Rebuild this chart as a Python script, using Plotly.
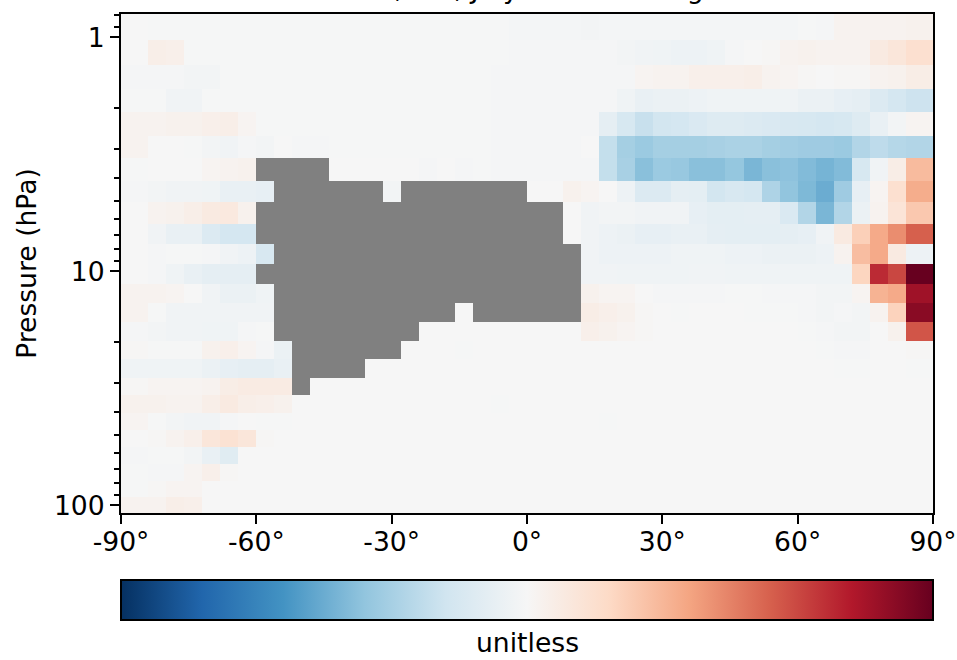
import plotly.graph_objects as go

lat_edges = [-90] + list(range(-84, 85, 4)) + [90]
pressure_edges = [0.795, 1.027, 1.313, 1.663, 2.085, 2.641, 3.280, 4.113, 5.056, 6.280, 7.643,
                  9.307, 11.33, 13.66, 16.47, 19.85, 23.70, 28.58, 33.78, 40.32, 47.67, 56.35,
                  66.60, 78.74, 92.15, 107.9]
N = None
row_00 = [0,-.5,-.5,-.5,-.5,-.5,-.5,-.5,-.5,-.5,-.5,-.5,-.5,-.5,-.5,-.5,-.5,-.5,-.5,-.5,-.5,-1.5,-1.5,-1.5,-1.5,-2,-1.5,-1.5,-1.5,-1.5,-1.5,-1.5,-1.5,-1.5,-1.5,-1.5,-1.5,-.5,-1,3,3,3,3,4]
row_01 = [0,6,5,-.5,-.5,-.5,-.5,-.5,-.5,-.5,-.5,-.5,-.5,-.5,-.5,-.5,-.5,-.5,-.5,-.5,-.5,-1,-1,-1,-1,-1,-1,-2,-3,-4,-5,-5,-4,-1,0,1,3,4,3,3,3,9,12,16]
row_02 = [-1,-1,-1,-2,-2,-.5,-.5,-.5,-.5,-.5,-.5,-.5,-.5,-.5,-.5,-.5,-.5,-.5,-.5,-.5,-1,-1,-1,-1,-1,-1,-1,-1,2,3,3,5,5,5,6,3,2,1,0,1,1,3,4,7]
row_03 = [-.5,-.5,-3,-3,-.5,-.5,-.5,-.5,-.5,-.5,-.5,-.5,-.5,-.5,-.5,-.5,-.5,-.5,-.5,-.5,-1,-1,-1,-1,-1,-1,-1,-4,-7,-6,-6,-5,-4,-4,-4,-4,-4,-6,-6,-8,-9,-14,-18,-21]
row_04 = [3,3,4,4,5,6,2,-.5,-.5,-.5,-.5,-.5,-.5,-.5,-.5,-.5,-.5,-.5,-.5,-.5,-1,-1,-1,-1,-1,-1,-9,-17,-23,-19,-18,-15,-13,-13,-14,-15,-16,-17,-18,-17,-13,-7,-2,2]
row_05 = [3,0,0,-.5,-2,-3,-1,-2,0,-1,-1,-.5,-.5,-.5,-.5,-.5,-.5,-.5,-.5,-.5,-1,-1,-1,-1,-1,0,-24,-34,-37,-34,-34,-34,-33,-32,-32,-34,-35,-36,-36,-37,-30,-26,-29,-30]
row_06 = [-.5,0,0,0,2,3,4,N,N,N,N,0,0,0,0,0,-1,0,-1,-.5,-1,-1,-1,-1,-1,-1,-24,-33,-42,-37,-38,-42,-42,-39,-46,-42,-41,-44,-47,-44,-17,-3,7,32]
row_07 = [-1,-2,-3,-3,-4,-7,-7,-8,N,N,N,N,N,N,-2,N,N,N,N,N,N,N,0,0,4,2,0,-5,-14,-14,-9,-10,-19,-16,-18,-31,-40,-45,-50,-36,-8,2,16,37]
row_08 = [0,3,4,6,9,10,4,N,N,N,N,N,N,N,N,N,N,N,N,N,N,N,N,N,0,-3,-2,-2,-3,-3,-3,-8,-10,-10,-9,-9,-15,-30,-46,-30,-6,3,13,27]
row_09 = [0,-3,-7,-7,-14,-18,-18,N,N,N,N,N,N,N,N,N,N,N,N,N,N,N,N,N,0,-3,-5,-6,-8,-8,-7,-7,-9,-10,-10,-10,-9,-8,-3,9,24,38,47,60]
row_10 = [0,-1,-.5,-.5,-1,-3,-5,-16,N,N,N,N,N,N,N,N,N,N,N,N,N,N,N,N,N,-3,-5,-5,-5,-5,-4,-4,-4,-5,-5,-6,-6,-6,-5,3,31,38,9,-5]
row_11 = [0,-1,-4,-7,-9,-9,-9,N,N,N,N,N,N,N,N,N,N,N,N,N,N,N,N,N,N,-3,-3,-4,-4,-4,-4,-3,-3,-4,-4,-4,-4,-4,-4,-4,22,75,67,100]
row_12 = [3,3,2,0,-3,-6,-6,-4,N,N,N,N,N,N,N,N,N,N,N,N,N,N,N,N,N,4,2,2,0,-1,-1,-1,-1,-.5,-.5,-1,-1,-1,-2,-2,2,35,38,85]
row_13 = [3,-.5,-3,-3,-3,-3,-3,-3,N,N,N,N,N,N,N,N,N,N,0,N,N,N,N,N,N,7,5,4,1,0,-.5,0,0,0,-.5,-.5,-.5,-1,-2,-1,-2,3,23,91]
row_14 = [-1,-2,-3,-3,-4,-4,-1,-.5,N,N,N,N,N,N,N,N,0,0,0,0,0,0,0,0,0,5,4,2,1,0,0,0,0,0,0,0,0,-.5,-1,-2,-2,0,4,63]
row_15 = [1,-.5,-.5,-.5,4,5,2,-1,-6,N,N,N,N,N,N,0,0,0,-.3,0,0,0,0,0,0,0,0,0,0,0,0,0,0,0,0,0,0,0,-.5,-1,-1,0,0,1]
row_16 = [-4,-4,-4,-4,-6,-8,-9,-9,-7,N,N,N,N,0,0,0,0,0,0,0,0,0,0,0,0,0,0,0,0,0,0,0,0,0,0,0,0,0,0,-.5,-.5,0,0,-.5]
row_17 = [1,2,2,2,3,7,8,8,8,N,0,0,0,0,0,0,0,0,0,0,0,0,0,0,0,0,0,0,0,0,0,0,0,0,0,0,0,0,0,0,0,0,0,0]
row_18 = [4,4,3,3,6,9,6,5,4,0,0,0,0,0,0,0,0,0,0,0,-.3,0,0,0,0,0,0,0,0,0,0,0,0,0,0,0,0,0,0,0,0,0,0,0]
row_19 = [2,-.5,-2,-3,-3,-1,0,-.3,-.3,0,0,0,0,0,0,0,0,0,0,0,0,0,0,0,0,0,-.5,0,0,0,0,0,0,0,0,0,0,0,0,0,0,0,0,0]
row_20 = [0,1,3,5,12,15,12,1,0,0,0,0,0,0,0,0,0,0,0,0,0,0,0,0,0,0,0,0,0,0,0,0,0,0,0,0,0,0,0,0,0,0,0,0]
row_21 = [-1,-.5,-.5,-2,-7,-12,0,0,0,0,0,0,0,0,0,0,0,0,0,0,0,0,0,0,0,0,0,0,0,0,0,0,0,0,0,0,0,0,0,0,0,0,0,0]
row_22 = [-.5,-1,-1,2,5,1,0,0,0,0,0,0,0,0,0,0,0,0,0,0,0,0,0,0,0,0,0,0,0,0,0,0,0,0,0,0,0,0,0,0,0,0,0,0]
row_23 = [-.5,1,2,2,0,0,0,0,0,0,0,0,0,0,0,0,0,0,0,0,0,0,0,0,0,0,0,0,0,0,0,0,0,0,0,0,0,0,0,0,0,0,0,0]
row_24 = [3,3,6,5,0,0,0,0,0,0,0,0,0,0,0,0,0,0,0,0,0,0,0,0,0,0,0,0,0,0,0,0,0,0,0,0,0,0,0,0,0,0,0,0]

z_values = [row_00,row_01,row_02,row_03,row_04,row_05,row_06,row_07,row_08,row_09,row_10,row_11,row_12,
            row_13,row_14,row_15,row_16,row_17,row_18,row_19,row_20,row_21,row_22,row_23,row_24]
for r in z_values:
    assert len(r) == 44, len(r)

x_ticks = [-90, -60, -30, 0, 30, 60, 90]
x_labels = ["-90°", "-60°", "-30°", "0°", "30°", "60°", "90°"]
y_ticks = [1, 10, 100]
y_labels = ["1", "10", "100"]
y_minor = [0.8, 0.9, 2, 3, 4, 5, 6, 7, 8, 9, 20, 30, 40, 50, 60, 70, 80, 90]

rdbu_r = ["#053061", "#2166ac", "#4393c3", "#92c5de", "#d1e5f0", "#f6f6f6",
          "#fddbc7", "#f4a582", "#d6604d", "#b2182b", "#67001f"]
scale = [[i / 10, c] for i, c in enumerate(rdbu_r)]
FONT = "DejaVu Sans"
FS = 26.6
W, H = 957, 660
L, R, T, B = 121, 933, 14, 513

fig = go.Figure(go.Heatmap(
    x=lat_edges, y=pressure_edges, z=z_values, zmin=-100, zmax=100, colorscale=scale,
    hoverongaps=False,
    colorbar=dict(orientation="h", x=0.5, xanchor="center", y=(B - 622) / (B - T), yanchor="bottom",
                  len=1, lenmode="fraction", thickness=40, thicknessmode="pixels",
                  xpad=0, ypad=0, outlinecolor="black", outlinewidth=2,
                  ticks="", tickmode="array", tickvals=[], ticktext=[],
                  tickfont=dict(family=FONT, size=2, color="white")),
))
axis_style = dict(showgrid=False, zeroline=False, showline=True, linecolor="black", linewidth=2,
                  mirror=True, ticks="outside", ticklen=9, tickwidth=2, tickcolor="black",
                  tickfont=dict(family=FONT, size=FS, color="black"))
fig.update_xaxes(range=[-90, 90], tickmode="array", tickvals=x_ticks, ticktext=x_labels,
                 ticklabelstandoff=-5, **axis_style)
fig.update_yaxes(type="log", range=[2.0329, -0.0996], tickmode="array", tickvals=y_ticks, ticktext=y_labels,
                 minor=dict(ticks="outside", ticklen=5, tickwidth=1.5, tickcolor="black", tickvals=y_minor, showgrid=False),
                 title=dict(text="Pressure (hPa)", font=dict(family=FONT, size=FS, color="black"), standoff=10),
                 **axis_style)
fig.update_layout(
    width=W, height=H, autosize=False,
    margin=dict(l=L, r=W - R, t=T, b=H - B, autoexpand=False, pad=0),
    plot_bgcolor="#808080", paper_bgcolor="white",
    annotations=[
        dict(text="AOD, Ref, July Zonal Average", xref="paper", yref="paper", x=0.5, xanchor="center",
             y=(B - 6) / (B - T), yanchor="bottom", showarrow=False,
             font=dict(family=FONT, size=FS, color="black")),
        dict(text="unitless", xref="paper", yref="paper", x=0.5, xanchor="center",
             y=(B - 642) / (B - T), yanchor="middle", showarrow=False,
             font=dict(family=FONT, size=FS, color="black")),
    ],
)
fig.write_html("out.html", config={"displayModeBar": False},
               post_script="document.body.style.margin='0';document.documentElement.style.overflow='hidden';")
